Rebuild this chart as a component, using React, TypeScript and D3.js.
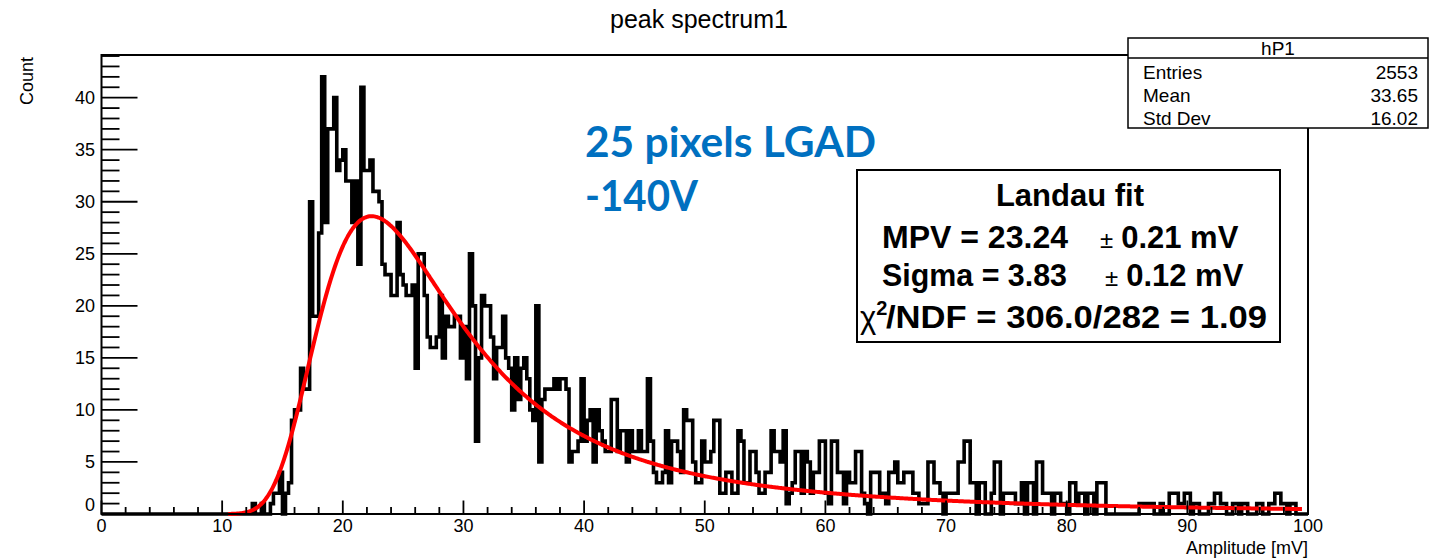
import React from 'react';
import * as d3 from 'd3';

// ---------- data ----------
const BIN_WIDTH = 0.25; // mV per bin (400 bins, 0..100 mV)
const X_DOMAIN: [number, number] = [0, 100];
const Y_DOMAIN: [number, number] = [0, 44.1];

// bin contents, 400 bins of 0.25 mV
const counts: number[] = [
  // 0 - 12.5 mV
  0,0,0,0,0,0,0,0,0,0, 0,0,0,0,0,0,0,0,0,0, 0,0,0,0,0,0,0,0,0,0, 0,0,0,0,0,0,0,0,0,0, 0,0,0,0,0,0,0,0,0,0,
  // 50-99
  1,0,0,1,0,0,1,2,2,4,
  0,2,3,9,10,10,14,12,12,30,
  19,19,27,42,28,37,37,40,33,34,
  35,32,32,28,32,24,41,33,33,34,
  31,31,30,24,23,23,21,21,28,23,
  // 100-199
  22,21,21,22,14,25,25,21,17,16,
  16,17,21,15,19,18,18,19,19,15,
  18,13,25,20,7,15,21,20,20,17,
  13,16,16,19,15,14,10,15,11,14,
  15,13,10,9,20,5,11,12,12,12,
  13,12,13,13,12,5,6,6,7,13,
  7,9,10,5,10,8,7,6,6,11,
  11,6,8,8,5,8,6,6,8,6,
  6,13,7,4,3,3,4,8,3,7,
  7,6,4,10,9,9,5,3,3,7,
  // 200-299
  5,5,6,9,9,2,2,4,4,2,
  2,8,7,3,3,6,6,4,2,2,
  4,4,8,6,6,5,8,1,2,3,
  6,6,2,6,5,2,4,4,7,7,
  2,1,7,7,4,4,1,4,3,3,
  6,6,2,1,0,4,4,4,2,2,
  1,4,4,5,3,3,4,4,4,2,
  2,1,1,1,5,5,3,3,2,0,
  2,2,2,2,5,5,7,7,3,3,
  0,3,3,0,0,2,5,5,0,2,
  // 300-399
  2,2,2,1,1,3,0,3,3,0,
  5,5,2,2,2,0,2,2,1,1,
  0,3,3,1,2,2,0,2,2,0,
  3,3,3,0,0,0,0,0,0,0,
  0,0,0,0,1,1,1,1,1,0,
  0,1,0,0,2,2,2,1,1,2,
  2,0,1,1,0,0,0,1,1,2,
  2,1,1,0,0,1,1,0,1,1,
  0,0,0,1,1,0,0,1,1,2,
  2,1,1,0,1,1,0,0,0,0,
];

const xMajorTicks = [0, 10, 20, 30, 40, 50, 60, 70, 80, 90, 100];
const yMajorTicks = [0, 5, 10, 15, 20, 25, 30, 35, 40];
const xMinorStep = 2;
const yMinorStep = 1;

const titleText = 'peak spectrum1';
const xAxisTitle = 'Amplitude [mV]';
const yAxisTitle = 'Count';

const statsName = 'hP1';
const statsLabels = ['Entries', 'Mean', 'Std Dev'];
const statsValues = ['2553', '33.65', '16.02'];

const annotationLines = ['25 pixels LGAD', '-140V'];

// Landau fit parameters (ROOT TMath::Landau location/sigma, constant)
const FIT_MPV = 23.24;
const FIT_SIGMA = 3.83;
const FIT_CONST = 158.4;
const FIT_RANGE: [number, number] = [10.5, 99.5];
const fitLabels = {
  title: 'Landau fit',
  mpv: 'MPV = 23.24',
  mpvErr: '0.21 mV',
  sigma: 'Sigma = 3.83',
  sigmaErr: '0.12 mV',
  chiRest: '/NDF = 306.0/282 = 1.09',
};

// CERNLIB DENLAN (as in ROOT::Math::landau_pdf)
function denlan(v: number): number {
  const p1 = [0.4259894875, -0.124976255, 0.039842437, -0.006298287635, 0.001511162253];
  const q1 = [1.0, -0.3388260629, 0.09594393323, -0.01608042283, 0.003778942063];
  const p2 = [0.1788541609, 0.1173957403, 0.01488850518, -0.001394989411, 0.0001283617211];
  const q2 = [1.0, 0.7428795082, 0.3153932961, 0.06694219548, 0.008790609714];
  const p3 = [0.1788544503, 0.09359161662, 0.006325387654, 0.00006611667319, -0.000002031049101];
  const q3 = [1.0, 0.6097809921, 0.2560616665, 0.04746722384, 0.006957301675];
  const p4 = [0.9874054407, 118.6723273, 849.279436, -743.7792444, 427.0262186];
  const q4 = [1.0, 106.8615961, 337.6496214, 2016.712389, 1597.063511];
  const p5 = [1.003675074, 167.5702434, 4789.711289, 21217.86767, -22324.9491];
  const q5 = [1.0, 156.9424537, 3745.310488, 9834.698876, 66924.28357];
  const p6 = [1.000827619, 664.9143136, 62972.92665, 475554.6998, -5743609.109];
  const q6 = [1.0, 651.4101098, 56974.73333, 165917.4725, -2815759.939];
  const a1 = [0.04166666667, -0.01996527778, 0.02709538966];
  const a2 = [-1.84556867, -4.284640743];
  const poly = (c: number[], t: number) => c[0] + (c[1] + (c[2] + (c[3] + c[4] * t) * t) * t) * t;
  let u: number;
  if (v < -5.5) {
    u = Math.exp(v + 1.0);
    if (u < 1e-10) return 0;
    const ue = Math.exp(-1 / u);
    const us = Math.sqrt(u);
    return 0.3989422803 * (ue / us) * (1 + (a1[0] + (a1[1] + a1[2] * u) * u) * u);
  } else if (v < -1) {
    u = Math.exp(-v - 1);
    return Math.exp(-u) * Math.sqrt(u) * poly(p1, v) / poly(q1, v);
  } else if (v < 1) {
    return poly(p2, v) / poly(q2, v);
  } else if (v < 5) {
    return poly(p3, v) / poly(q3, v);
  } else if (v < 12) {
    u = 1 / v;
    return u * u * poly(p4, u) / poly(q4, u);
  } else if (v < 50) {
    u = 1 / v;
    return u * u * poly(p5, u) / poly(q5, u);
  } else if (v < 300) {
    u = 1 / v;
    return u * u * poly(p6, u) / poly(q6, u);
  }
  u = 1 / (v - (v * Math.log(v)) / (v + 1));
  return u * u * (1 + (a2[0] + a2[1] * u) * u);
}

const FONT = '"Liberation Sans", Arial, Helvetica, sans-serif';

export default function App() {
  const W = 1434;
  const H = 560;
  const x = d3.scaleLinear().domain(X_DOMAIN).range([101.5, 1308]);
  const y = d3.scaleLinear().domain(Y_DOMAIN).range([514, 55]);

  const histPts: [number, number][] = [];
  counts.forEach((c, i) => {
    histPts.push([i * BIN_WIDTH, c]);
    histPts.push([(i + 1) * BIN_WIDTH, c]);
  });
  const histPath = d3
    .line<[number, number]>()
    .x((d) => x(d[0]))
    .y((d) => y(d[1]))(histPts) as string;

  const fitX = d3.range(FIT_RANGE[0], FIT_RANGE[1] + 1e-9, 0.1);
  const fitPts: [number, number][] = fitX.map((v) => [v, FIT_CONST * denlan((v - FIT_MPV) / FIT_SIGMA)]);
  const fitPath = d3
    .line<[number, number]>()
    .x((d) => x(d[0]))
    .y((d) => y(d[1]))
    .curve(d3.curveMonotoneX)(fitPts) as string;

  const xMinor = d3.range(X_DOMAIN[0], X_DOMAIN[1] + 1e-9, xMinorStep).filter((v) => v % 10 !== 0);
  const yMinor = d3.range(0, Y_DOMAIN[1], yMinorStep).filter((v) => v % 5 !== 0);

  const x0 = x(X_DOMAIN[0]);
  const x1 = x(X_DOMAIN[1]);
  const yb = y(0);
  const yt = y(Y_DOMAIN[1]);

  return (
    <svg
      width={W}
      height={H}
      viewBox={`0 0 ${W} ${H}`}
      style={{ position: 'absolute', left: 0, top: 0, background: '#fff' }}
      fontFamily={FONT}
    >
      <rect x={0} y={0} width={W} height={H} fill="#fff" />

      {/* title */}
      <text x={699} y={28} fontSize={25} textAnchor="middle" fill="#000">
        {titleText}
      </text>

      {/* histogram */}
      <path d={histPath} fill="none" stroke="#000" strokeWidth={3.6} strokeLinejoin="miter" />

      {/* fit */}
      <path d={fitPath} fill="none" stroke="#ff0000" strokeWidth={4} strokeLinejoin="round" />

      {/* frame */}
      <rect x={x0} y={yt} width={x1 - x0} height={yb - yt} fill="none" stroke="#000" strokeWidth={2} />

      {/* y ticks */}
      {yMajorTicks.map((v) => (
        <line key={'ym' + v} x1={x0} x2={x0 + 36} y1={y(v)} y2={y(v)} stroke="#000" strokeWidth={1.8} />
      ))}
      {yMinor.map((v) => (
        <line key={'yn' + v} x1={x0} x2={x0 + 18} y1={y(v)} y2={y(v)} stroke="#000" strokeWidth={1.8} />
      ))}
      {yMajorTicks.map((v) => (
        <text key={'yl' + v} x={95} y={y(v) + (v === 0 ? -3.5 : 6.5)} fontSize={18} textAnchor="end" fill="#000">
          {v}
        </text>
      ))}

      {/* x ticks */}
      {xMajorTicks.map((v) => (
        <line key={'xm' + v} x1={x(v)} x2={x(v)} y1={yb} y2={yb - 13.5} stroke="#000" strokeWidth={1.8} />
      ))}
      {xMinor.map((v) => (
        <line key={'xn' + v} x1={x(v)} x2={x(v)} y1={yb} y2={yb - 7} stroke="#000" strokeWidth={1.8} />
      ))}
      {xMajorTicks.map((v) => (
        <text key={'xl' + v} x={x(v)} y={532} fontSize={18} textAnchor="middle" fill="#000">
          {v}
        </text>
      ))}

      {/* axis titles */}
      <text x={x1} y={554} fontSize={18} textAnchor="end" fill="#000">
        {xAxisTitle}
      </text>
      <text transform="translate(33,57) rotate(-90)" fontSize={18} textAnchor="end" fill="#000">
        {yAxisTitle}
      </text>

      {/* annotation */}
      <text x={585} y={157} fontSize={42} fontWeight={700} fill="#0070C0" fontFamily="Lato, 'Open Sans', sans-serif" textLength={291} lengthAdjust="spacingAndGlyphs">
        {annotationLines[0]}
      </text>
      <text x={585} y={211} fontSize={42} fontWeight={700} fill="#0070C0" fontFamily="Lato, 'Open Sans', sans-serif" textLength={113} lengthAdjust="spacingAndGlyphs">
        {annotationLines[1]}
      </text>

      {/* stats box */}
      <g>
        <rect x={1128} y={38} width={300} height={90} fill="#fff" stroke="#000" strokeWidth={1.5} />
        <line x1={1128} x2={1428} y1={58} y2={58} stroke="#000" strokeWidth={1.5} />
        <text x={1278} y={55} fontSize={19} textAnchor="middle" fill="#000">
          {statsName}
        </text>
        {statsLabels.map((l, i) => (
          <g key={l}>
            <text x={1143} y={79 + i * 23} fontSize={19} fill="#000">
              {l}
            </text>
            <text x={1418} y={79 + i * 23} fontSize={19} textAnchor="end" fill="#000">
              {statsValues[i]}
            </text>
          </g>
        ))}
      </g>

      {/* fit box */}
      <g>
        <rect x={857} y={170} width={423} height={172} fill="#fff" stroke="#000" strokeWidth={2} />
        <text x={1070} y={206} fontSize={31} fontWeight={700} textAnchor="middle" fill="#000">
          {fitLabels.title}
        </text>
        <text x={882} y={248} fontSize={31} fontWeight={700} fill="#000" textLength={186} lengthAdjust="spacingAndGlyphs">
          {fitLabels.mpv}
        </text>
        <text x={1100} y={248} fontSize={31} fill="#000">
          <tspan fontSize={24} fontWeight={400}>±</tspan>
          <tspan fontWeight={700} dx={8}>{fitLabels.mpvErr}</tspan>
        </text>
        <text x={882} y={286} fontSize={31} fontWeight={700} fill="#000" textLength={185} lengthAdjust="spacingAndGlyphs">
          {fitLabels.sigma}
        </text>
        <text x={1105} y={286} fontSize={31} fill="#000">
          <tspan fontSize={24} fontWeight={400}>±</tspan>
          <tspan fontWeight={700} dx={8}>{fitLabels.sigmaErr}</tspan>
        </text>
        <text x={860} y={328} fontSize={31} fill="#000">
          <tspan fontWeight={400}>χ</tspan>
          <tspan fontWeight={700} fontSize={20} dy={-13}>2</tspan>
        </text>
        <text x={886} y={328} fontSize={31} fontWeight={700} fill="#000" textLength={381} lengthAdjust="spacingAndGlyphs">
          {fitLabels.chiRest}
        </text>
      </g>
    </svg>
  );
}
